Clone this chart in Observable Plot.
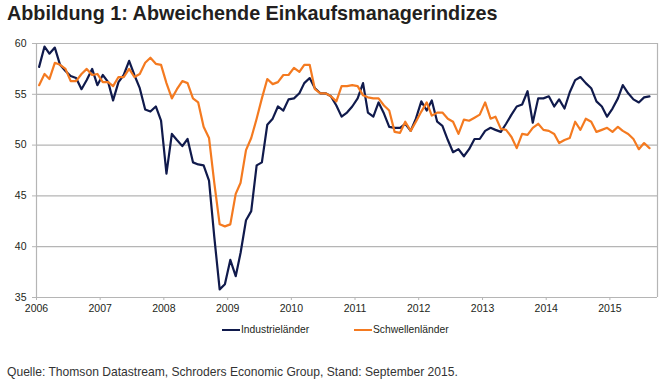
<!DOCTYPE html>
<html><head><meta charset="utf-8">
<script src="https://cdn.jsdelivr.net/npm/d3@7"></script>
<script src="https://cdn.jsdelivr.net/npm/@observablehq/plot@0.6"></script>
<style>
body{margin:0;width:662px;height:382px;background:#fff;position:relative;overflow:hidden;font-family:"Liberation Sans",Arial,sans-serif;}
#title{position:absolute;left:7px;top:2px;font-size:19.8px;font-weight:bold;color:#231f20;white-space:nowrap;}
#chart{position:absolute;left:0;top:0;}
.leg{position:absolute;top:324px;font-size:10.3px;color:#231f20;display:flex;align-items:center;white-space:nowrap;}
.leg .sw{display:inline-block;width:18px;height:2px;margin-right:1px;}
#caption{position:absolute;left:7px;top:365px;font-size:12.1px;color:#333;white-space:nowrap;}
</style></head><body>
<div id="chart"></div>
<div id="title">Abbildung 1: Abweichende Einkaufsmanagerindizes</div>
<div class="leg" style="left:222px"><span class="sw" style="background:#101a4c"></span>Industrieländer</div>
<div class="leg" style="left:354px"><span class="sw" style="background:#f47a20"></span>Schwellenländer</div>
<div id="caption">Quelle: Thomson Datastream, Schroders Economic Group, Stand: September 2015.</div>
<script>
const seriesNames = ["Industrieländer", "Schwellenländer"];
const seriesColors = ["#101a4c", "#f47a20"];
const startYear = 2006;
const yearTicks = [2006, 2007, 2008, 2009, 2010, 2011, 2012, 2013, 2014, 2015];
const yTicks = [35, 40, 45, 50, 55, 60];
const industrie = [
 57.7, 59.7, 59.0, 59.6, 57.9, 57.3, 56.8, 56.6, 55.5, 56.4, 57.5, 55.9,
 56.9, 56.2, 54.4, 56.2, 56.9, 58.3, 56.9, 55.6, 53.5, 53.3, 53.8, 52.4,
 47.2, 51.1, 50.5, 49.9, 50.6, 48.3, 48.1, 48.0, 46.5, 41.0, 35.8, 36.3,
 38.7, 37.1, 39.4, 42.6, 43.5, 48.0, 48.3, 52.0, 52.6, 53.8, 53.4, 54.5,
 54.6, 55.1, 56.1, 56.6, 55.6, 55.1, 55.1, 54.8, 53.9, 52.8, 53.2, 53.8,
 54.6, 56.1, 53.2, 52.8, 54.2, 53.1, 51.8, 51.7, 51.7, 52.1, 51.4, 52.6,
 54.3, 53.4, 54.4, 52.3, 51.9, 50.5, 49.3, 49.6, 48.9, 49.6, 50.6, 50.6,
 51.4, 51.7, 51.5, 51.3, 52.1, 53.0, 53.8, 54.0, 55.3, 52.2, 54.6, 54.6,
 54.8, 53.8, 54.5, 53.6, 55.2, 56.4, 56.7, 56.1, 55.6, 54.3, 53.8, 52.8,
 53.6, 54.6, 55.9, 55.1, 54.5, 54.2, 54.7, 54.8
];
const schwellen = [
 55.9, 57.0, 56.5, 58.1, 57.9, 57.5, 56.3, 56.3, 57.0, 57.5, 56.9, 57.0,
 56.2, 56.2, 55.8, 56.7, 56.7, 57.5, 56.7, 57.0, 58.1, 58.6, 58.0, 57.9,
 56.1, 54.6, 55.5, 56.3, 56.1, 54.6, 54.2, 51.8, 50.7, 46.3, 42.2, 42.0,
 42.2, 45.2, 46.3, 49.5, 50.7, 52.6, 54.6, 56.5, 56.0, 56.2, 56.9, 56.9,
 57.6, 57.2, 57.9, 57.9, 55.5, 55.1, 55.1, 54.8, 54.3, 55.8, 55.8, 55.9,
 55.8, 54.9, 54.7, 54.6, 54.6, 53.9, 53.4, 51.3, 51.2, 52.3, 51.4, 52.3,
 53.3, 54.2, 52.9, 53.2, 53.2, 52.6, 52.3, 51.1, 52.5, 52.4, 52.7, 53.0,
 54.2, 52.6, 52.8, 51.6, 51.5, 50.8, 49.7, 51.1, 51.0, 51.7, 52.1, 51.5,
 51.4, 51.1, 50.2, 50.5, 50.7, 52.3, 51.5, 52.6, 52.3, 51.3, 51.5, 51.7,
 51.3, 51.8, 51.4, 51.1, 50.6, 49.6, 50.2, 49.7
];

const monthDate = i => new Date(Date.UTC(startYear, i, 16));
const data = [];
industrie.forEach((v, i) => data.push({date: monthDate(i), series: seriesNames[0], value: v}));
schwellen.forEach((v, i) => data.push({date: monthDate(i), series: seriesNames[1], value: v}));
const x0 = new Date(Date.UTC(2006, 0, 1)), x1 = new Date(Date.UTC(2015, 9, 1));
const yearDates = yearTicks.map(y => new Date(Date.UTC(y, 0, 1)));
const gridCol = "#b5b5b5";

const chart = Plot.plot({
  width: 662, height: 320,
  marginTop: 43, marginLeft: 36, marginRight: 5, marginBottom: 23,
  style: {fontFamily: "'Liberation Sans', Arial, sans-serif", color: "#231f20", background: "transparent"},
  x: {type: "utc", domain: [x0, x1]},
  y: {domain: [35, 60]},
  color: {domain: seriesNames, range: seriesColors},
  marks: [
    Plot.gridY(yTicks.filter(t => t > 35), {stroke: gridCol, strokeOpacity: 1, strokeWidth: 1.2}),
    Plot.ruleY([35], {stroke: gridCol, strokeWidth: 1.2}),
    Plot.ruleX([x0, x1], {stroke: gridCol, strokeWidth: 1.2}),
    Plot.axisY({ticks: yTicks, tickSize: 4, tickPadding: 6, fontSize: 10.5, stroke: gridCol, label: null}),
    Plot.axisX({ticks: yearDates, tickFormat: d3.utcFormat("%Y"), tickSize: 3, tickPadding: 4, fontSize: 10.5, stroke: gridCol, label: null}),
    Plot.line(data, {x: "date", y: "value", stroke: "series", z: "series", strokeWidth: 2.2, strokeLinejoin: "round"})
  ]
});
document.getElementById("chart").appendChild(chart);
</script>
</body></html>
